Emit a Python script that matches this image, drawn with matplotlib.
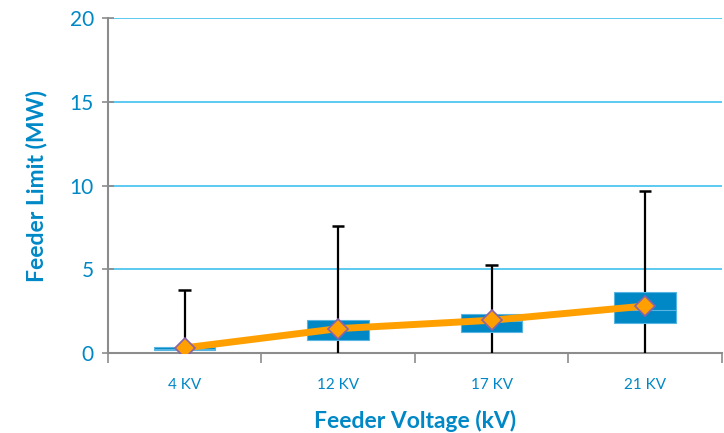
import matplotlib
matplotlib.use("Agg")
import matplotlib.pyplot as plt
import numpy as np

plt.rcParams['font.family'] = ['Lato', 'DejaVu Sans']

# data
categories = ["4 KV", "12 KV", "17 KV", "21 KV"]
q1 = [0.15, 0.80, 1.22, 1.78]
q3 = [0.33, 1.97, 2.33, 3.62]
median = [0.25, 1.40, 1.90, 2.55]
whisker_low = [0.0, 0.0, 0.0, 0.0]
whisker_high = [3.78, 7.58, 5.25, 9.70]
mean = [0.30, 1.45, 1.95, 2.80]

BLUE = "#0088c6"
GRID = "#4fc6f0"
AXIS = "#8c8c8c"

fig = plt.figure(figsize=(7.24, 4.33), dpi=100)
ax = fig.add_axes([0.149, 0.185, 0.848, 0.773])

x = np.arange(len(categories))

# whiskers and caps
ax.vlines(x, whisker_low, whisker_high, color="black", lw=1.6, zorder=3)
ax.hlines(whisker_high, x - 0.04, x + 0.04, color="black", lw=1.8, zorder=3)

# boxes
heights = np.array(q3) - np.array(q1)
ax.bar(x, heights, bottom=q1, width=0.4, color=BLUE, edgecolor="#58b4e0",
       lw=0.8, zorder=4)
ax.hlines(median, x - 0.2, x + 0.2, color="#58b4e0", lw=0.8, zorder=5)

# mean line
ax.plot(x, mean, color="#ffa000", lw=5, zorder=6, solid_capstyle="butt")
ax.plot(x, mean, ls="none", marker="D", ms=10, mfc="#ffa000",
        mec="#8a63a8", mew=1.2, zorder=7)

ax.set_xlim(-0.5, len(categories) - 0.5)
ax.set_ylim(0, 20)
ax.set_yticks([0, 5, 10, 15, 20])
ax.yaxis.grid(True, color=GRID, lw=1.3)
ax.set_axisbelow(True)

ax.set_xticks(x)
ax.set_xticklabels(categories, color=BLUE, fontsize=11)
ax.set_xticks(np.arange(len(categories) + 1) - 0.5, minor=True)
ax.tick_params(axis="x", which="major", length=0, pad=18)
ax.tick_params(axis="x", which="minor", length=7, width=1.2, color=AXIS, direction="out")
ax.tick_params(axis="y", length=8, width=1.2, color=AXIS, labelcolor=BLUE,
               labelsize=15, direction="inout", pad=6)

for s in ["top", "right"]:
    ax.spines[s].set_visible(False)
for s in ["left", "bottom"]:
    ax.spines[s].set_color(AXIS)
    ax.spines[s].set_linewidth(1.5)

ax.set_xlabel("Feeder Voltage (kV)", color=BLUE, fontsize=16.5, fontweight="bold", labelpad=13)
ax.set_ylabel("Feeder Limit (MW)", color=BLUE, fontsize=16.5, fontweight="bold", labelpad=16)

fig.savefig("out.png", dpi=100)
